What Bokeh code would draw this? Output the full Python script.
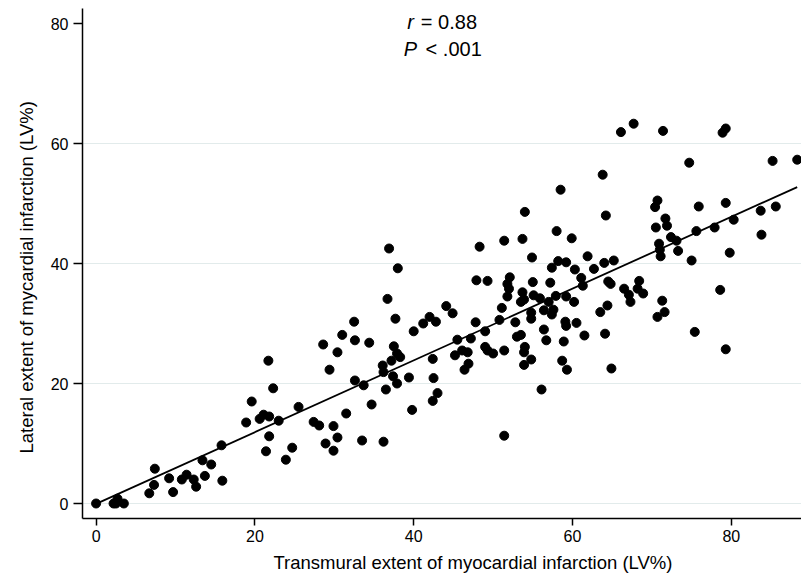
from bokeh.plotting import figure
from bokeh.models import Range1d, FixedTicker, Label, Title
from bokeh.embed import file_html
from bokeh.resources import INLINE

# Transmural extent of MI (LV%) vs lateral extent of MI (LV%)
transmural = [
    0.0, 2.2, 2.7, 3.5, 2.5, 6.7, 7.3, 7.4, 9.7, 9.2, 10.8, 11.4, 12.3, 12.6, 13.4, 13.7,
    14.5, 15.9, 15.8, 18.9, 19.6, 20.6, 21.1, 21.8, 21.7, 22.3, 21.8, 21.4, 23.0, 23.9,
    24.7, 25.5,
    36.9, 38.0, 48.3, 47.9, 36.7, 37.7, 32.5, 31.0, 28.6, 30.4, 32.6, 34.4, 29.4, 40.0,
    41.2, 42.0, 42.8, 44.1, 44.9, 47.8, 37.5, 37.2, 37.9, 38.3, 36.1, 36.2, 37.4, 37.9,
    39.4, 36.5, 32.6, 33.7, 34.7, 31.5, 45.5, 47.2, 46.1, 46.8, 45.2, 46.9, 46.4, 42.4,
    42.5, 43.0, 42.4, 39.8, 27.4, 28.1, 29.9, 30.4, 28.9, 33.5, 36.2, 29.9,
    63.8, 58.5, 54.0, 64.2, 58.0, 59.9, 51.4, 53.7, 54.9, 61.9, 58.2, 59.2, 64.0, 65.2,
    57.4, 60.3, 62.7, 49.3, 52.1, 51.8, 52.0, 51.8, 53.7, 53.5, 53.9, 55.0, 55.1, 55.9,
    57.2, 57.0, 57.9, 59.2, 61.1, 61.3, 60.2, 64.5, 64.8, 66.5, 67.1, 67.3, 68.2, 64.4,
    63.5, 51.1, 50.8, 54.8, 54.8, 56.4, 57.6, 57.4, 59.1, 59.2, 60.5, 49.0, 52.8, 53.0,
    53.5, 56.4, 56.7, 58.9, 61.5, 64.1, 49.0, 49.3, 50.0, 51.4, 54.0, 53.9, 54.8, 53.9,
    58.7, 59.3, 64.9, 56.1, 51.4,
    67.7, 66.1, 71.4, 78.9, 79.3, 74.7, 85.2, 88.3, 70.7, 70.4, 75.9, 79.3, 83.7, 85.6,
    71.7, 71.9, 70.5, 80.3, 77.9, 75.6, 72.4, 73.1, 70.9, 71.0, 71.1, 73.3, 75.0, 79.8,
    83.8, 68.4, 68.9, 71.3, 71.6, 70.7, 78.6, 75.4, 79.3,
]
lateral = [
    0.0, 0.0, 0.8, 0.0, 0.0, 1.7, 3.1, 5.8, 1.9, 4.2, 4.0, 4.8, 4.0, 2.8, 7.2, 4.6,
    6.5, 3.8, 9.7, 13.5, 17.0, 14.1, 14.8, 14.5, 23.8, 19.2, 11.2, 8.7, 13.8, 7.3,
    9.3, 16.1,
    42.5, 39.2, 42.8, 37.2, 34.1, 30.8, 30.3, 28.1, 26.5, 25.2, 27.2, 26.8, 22.3, 28.7,
    30.0, 31.1, 30.3, 32.9, 31.7, 30.2, 26.2, 23.8, 25.0, 24.4, 23.0, 21.9, 21.2, 20.0,
    21.0, 19.0, 20.5, 19.7, 16.5, 15.0, 27.3, 27.5, 25.5, 25.2, 24.7, 23.3, 22.3, 24.1,
    20.9, 18.4, 17.1, 15.6, 13.6, 13.0, 12.9, 11.0, 10.0, 10.5, 10.3, 8.8,
    54.8, 52.3, 48.6, 48.0, 45.4, 44.2, 43.8, 44.1, 41.0, 41.2, 40.4, 40.2, 40.1, 40.5,
    39.3, 39.0, 39.1, 37.1, 37.7, 36.6, 35.8, 34.5, 35.2, 33.6, 34.0, 36.9, 34.7, 34.2,
    36.8, 33.6, 34.6, 34.5, 37.6, 36.3, 33.6, 37.0, 36.6, 35.8, 34.8, 33.6, 35.8, 33.0,
    31.9, 32.6, 30.6, 31.8, 30.8, 32.2, 32.3, 31.5, 30.3, 29.6, 30.1, 28.7, 30.2, 27.8,
    28.1, 29.0, 27.2, 27.0, 28.0, 28.3, 26.1, 25.5, 25.0, 25.5, 26.1, 25.2, 24.0, 23.1,
    23.8, 22.3, 22.5, 19.0, 11.3,
    63.3, 61.9, 62.1, 61.8, 62.5, 56.8, 57.1, 57.3, 50.5, 49.4, 49.5, 50.1, 48.8, 49.5,
    47.5, 46.3, 46.0, 47.3, 46.0, 45.4, 44.4, 43.8, 43.3, 42.3, 41.2, 42.1, 40.5, 41.8,
    44.8, 37.1, 35.0, 33.8, 31.9, 31.1, 35.6, 28.6, 25.7,
]

# Fitted line
fit_slope = 0.598
fit_intercept = -0.07

x_ticks = [0, 20, 40, 60, 80]
y_ticks = [0, 20, 40, 60, 80]
grid_y = [0, 20, 40, 60]

x_title = "Transmural extent of myocardial infarction (LV%)"
y_title = "Lateral extent of mycardial infarction (LV%)"

line_x = [min(transmural), max(transmural)]
line_y = [fit_intercept + fit_slope * v for v in line_x]

FONT = "Liberation Sans"

p = figure(width=801, height=579, output_backend="svg", toolbar_location=None,
           x_range=Range1d(-1.71, 88.84), y_range=Range1d(-2.5, 82.5),
           min_border_left=82, min_border_right=0, min_border_top=8, min_border_bottom=61)

p.outline_line_color = None
p.background_fill_color = "white"
p.border_fill_color = "white"

p.line(line_x, line_y, line_color="black", line_width=1.8)
p.scatter(transmural, lateral, size=9, fill_color="black", line_color="black")

p.xgrid.visible = False
p.ygrid.ticker = FixedTicker(ticks=grid_y)
p.ygrid.grid_line_color = "#e2ebeb"
p.ygrid.grid_line_width = 1

for ax in (p.xaxis, p.yaxis):
    ax.axis_line_color = "black"
    ax.axis_line_width = 1.5
    ax.major_tick_line_color = "black"
    ax.major_tick_line_width = 1.5
    ax.major_tick_in = 0
    ax.minor_tick_line_color = None
    ax.major_label_text_font = FONT
    ax.major_label_text_font_size = "16px"
    ax.major_label_text_color = "black"

p.xaxis.ticker = x_ticks
p.yaxis.ticker = y_ticks
p.xaxis.major_tick_out = 7
p.yaxis.major_tick_out = 9
p.xaxis.major_label_standoff = 4
p.yaxis.major_label_standoff = 5

# Axis titles, offset from the frame centre like the original
title_style = dict(text_font=FONT, text_font_size="18.5px", text_color="black",
                   text_font_style="normal", align="left")
p.add_layout(Title(text=x_title, offset=191, **title_style), "below")
p.add_layout(Title(text=y_title, offset=65, standoff=22, **title_style), "left")

common = dict(text_font=FONT, text_font_size="20px", text_color="black",
              text_baseline="alphabetic", text_align="left")
p.add_layout(Label(x=39.2, y=80.2, text="r", text_font_style="italic", **common))
p.add_layout(Label(x=40.9, y=80.2, text="= 0.88", **common))
p.add_layout(Label(x=38.75, y=75.7, text="P", text_font_style="italic", **common))
p.add_layout(Label(x=41.5, y=75.7, text="< .001", **common))

open("out.html", "w").write(file_html(p, INLINE))
